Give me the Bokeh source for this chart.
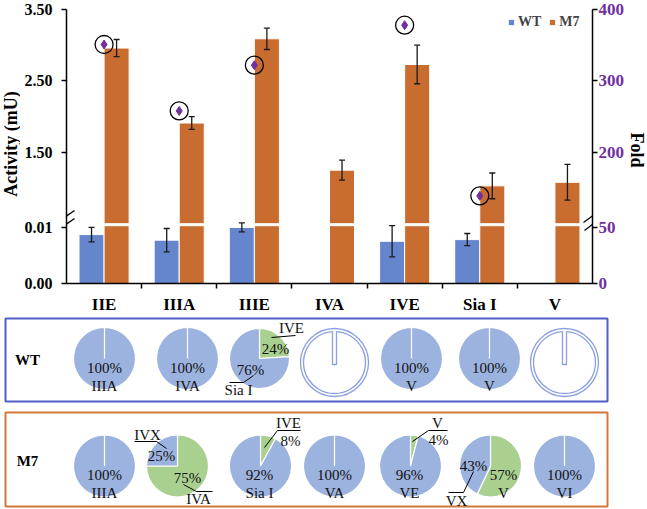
import math
from bokeh.plotting import figure
from bokeh.models import (Range1d, LinearAxis, FixedTicker, Whisker, TeeHead, ColumnDataSource,
                          Legend, LegendItem, Arrow)
from bokeh.layouts import column, row
from bokeh.transform import dodge
from bokeh.core.properties import value
from bokeh.embed import file_html
from bokeh.resources import INLINE

# ---------------- data ----------------
categories = ["IIE", "IIIA", "IIIE", "IVA", "IVE", "Sia I", "V"]
wt_activity = [0.0088, 0.0078, 0.0101, 0.0, 0.0076, 0.0079, 0.0]
wt_error = [0.0013, 0.0021, 0.0008, 0.0, 0.0028, 0.0011, 0.0]
m7_activity = [2.96, 1.91, 3.09, 1.25, 2.73, 1.03, 1.08]
m7_error = [0.12, 0.09, 0.15, 0.14, 0.27, 0.18, 0.25]
fold_change = [351, 258, 322, float("nan"), 378, 139, float("nan")]

activity_ticks_lower = [0.0, 0.01]
activity_ticks_upper = [1.5, 2.5, 3.5]
fold_ticks_lower = [0, 50]
fold_ticks_upper = [200, 300, 400]

wt_products = [["IIIA"], ["IVA"], ["IVE", "Sia I"], [], ["V"], ["V"], []]
wt_shares = [[100], [100], [24, 76], [], [100], [100], []]
m7_products = [["IIIA"], ["IVA", "IVX"], ["IVE", "Sia I"], ["VA"], ["V", "VE"], ["V", "VX"], ["VI"]]
m7_shares = [[100], [75, 25], [8, 92], [100], [4, 96], [57, 43], [100]]

# axis break definition (activity and fold)
ACT_BREAK_LO, ACT_BREAK_HI, ACT_TOP = 0.0104, 0.5, 3.5
FOLD_BREAK_LO, FOLD_BREAK_HI, FOLD_TOP = 52, 100, 400

# ---------------- styles / layout ----------------
SERIF = "Liberation Serif"
WT_COLOR = "#6585CC"
M7_COLOR = "#C96C30"
PIE_BLUE = "#9CB2DF"
PIE_GREEN = "#A9D08E"
RING = "#8C9FE2"
PURPLE = "#7030A0"
WT_BOX = "#4F5FC6"
M7_BOX = "#D2783A"
W = 647
H_TOTAL = 509
SIDE = 20                                  # width of the axis-title strips
FRAME_L, FRAME_R_PAGE = 66, 592
FRAME_T, FRAME_B = 9, 32
H_BAR = 316
H_FRAME = H_BAR - FRAME_T - FRAME_B       # 275
H_LO, GAP = 58, 2
H_HI = H_FRAME - H_LO - GAP
FRAME_BOTTOM_PAGE = H_BAR - FRAME_B       # 284

n = len(categories)
xr = Range1d(0, n)
centers = [i + 0.5 for i in range(n)]

act_hi = Range1d(ACT_BREAK_HI - (H_LO + GAP) * (ACT_TOP - ACT_BREAK_HI) / H_HI, ACT_TOP)
act_lo = Range1d(0, ACT_BREAK_LO * H_FRAME / H_LO)
fold_hi = Range1d(FOLD_BREAK_HI - (H_LO + GAP) * (FOLD_TOP - FOLD_BREAK_HI) / H_HI, FOLD_TOP)
fold_lo = Range1d(0, FOLD_BREAK_LO * H_FRAME / H_LO)


def lo_to_hi(v, lo, hi):
    return hi.start + (v - lo.start) / (lo.end - lo.start) * (hi.end - hi.start)


def lower_part(vals, brk):
    return [min(v, brk) for v in vals]


def upper_part(vals, brk):
    return [v if v > brk else float("nan") for v in vals]


def bare_fig(width, height, xrange, yrange):
    f = figure(width=width, height=height, x_range=xrange, y_range=yrange, output_backend="svg",
               toolbar_location=None, x_axis_location=None, y_axis_location=None,
               min_border=0, min_border_left=0, min_border_right=0,
               min_border_top=0, min_border_bottom=0)
    f.frame_align = False
    f.grid.visible = False
    f.outline_line_color = None
    return f


src = ColumnDataSource(dict(
    x=centers,
    wt_lo=lower_part(wt_activity, ACT_BREAK_LO), wt_hi=upper_part(wt_activity, ACT_BREAK_HI),
    m7_lo=lower_part(m7_activity, ACT_BREAK_LO), m7_hi=upper_part(m7_activity, ACT_BREAK_HI),
    fold=fold_change))

p = figure(width=W - 2 * SIDE, height=H_BAR, x_range=xr, y_range=act_hi, output_backend="svg",
           toolbar_location=None, x_axis_location=None, y_axis_location=None,
           min_border_left=FRAME_L - SIDE, min_border_right=W - SIDE - FRAME_R_PAGE,
           min_border_top=FRAME_T, min_border_bottom=FRAME_B)
p.frame_align = False
p.extra_y_ranges = {"act_lo": act_lo, "fold": fold_hi}
p.grid.visible = False
p.outline_line_color = None


def style_axis(ax, size, color, standoff):
    ax.axis_line_color = "black"
    ax.axis_line_width = 1.5
    ax.major_tick_line_color = "black"
    ax.major_tick_line_width = 1.5
    ax.major_tick_in = 0
    ax.major_tick_out = 5
    ax.minor_tick_line_color = None
    ax.major_label_text_font = SERIF
    ax.major_label_text_font_style = "bold"
    ax.major_label_text_font_size = size
    ax.major_label_text_color = color
    ax.major_label_standoff = standoff


# left axis: activity, with break
l_pos = [lo_to_hi(v, act_lo, act_hi) for v in activity_ticks_lower] + activity_ticks_upper
l_txt = ["%.2f" % v for v in activity_ticks_lower + activity_ticks_upper]
la = LinearAxis(ticker=FixedTicker(ticks=l_pos), major_label_overrides=dict(zip(l_pos, l_txt)))
style_axis(la, "16px", "black", 9)
p.add_layout(la, "left")

# right axis: fold, with break
r_pos = [lo_to_hi(v, fold_lo, fold_hi) for v in fold_ticks_lower] + fold_ticks_upper
r_txt = ["%d" % v for v in fold_ticks_lower + fold_ticks_upper]
ra = LinearAxis(y_range_name="fold", ticker=FixedTicker(ticks=r_pos),
                major_label_overrides=dict(zip(r_pos, r_txt)))
style_axis(ra, "17px", PURPLE, 1)
p.add_layout(ra, "right")

# x axis
xa = LinearAxis(ticker=FixedTicker(ticks=centers, minor_ticks=list(range(1, n))),
                major_label_overrides={c: name for c, name in zip(centers, categories)})
style_axis(xa, "17px", "black", 6)
xa.major_tick_line_color = None
xa.minor_tick_line_color = "black"
xa.minor_tick_line_width = 1.5
xa.minor_tick_in = 0
xa.minor_tick_out = 5
p.add_layout(xa, "below")

# bars (lower and upper pieces)
bar_kw = dict(width=1 / 3, source=src, line_color="white", line_width=1)
wt_lo_r = p.vbar(x=dodge("x", -1 / 6, range=xr), bottom=0, top="wt_lo", y_range_name="act_lo",
                 fill_color=WT_COLOR, **bar_kw)
p.vbar(x=dodge("x", -1 / 6, range=xr), bottom=ACT_BREAK_HI, top="wt_hi", fill_color=WT_COLOR, **bar_kw)
p.vbar(x=dodge("x", 1 / 6, range=xr), bottom=0, top="m7_lo", y_range_name="act_lo",
       fill_color=M7_COLOR, **bar_kw)
m7_hi_r = p.vbar(x=dodge("x", 1 / 6, range=xr), bottom=ACT_BREAK_HI, top="m7_hi",
                 fill_color=M7_COLOR, **bar_kw)


def add_whiskers(offset, vals, errs, range_name):
    xs, lo, hi = [], [], []
    for c, v, e in zip(centers, vals, errs):
        if v > 0:
            xs.append(c + offset)
            lo.append(v - e)
            hi.append(v + e)
    s = ColumnDataSource(dict(x=xs, lo=lo, hi=hi))
    w = Whisker(source=s, base="x", lower="lo", upper="hi", line_color="#1a1a1a", line_width=1.3,
                upper_head=TeeHead(size=6, line_color="#1a1a1a", line_width=1.3),
                lower_head=TeeHead(size=6, line_color="#1a1a1a", line_width=1.3),
                level="annotation")
    if range_name != "default":
        w.y_range_name = range_name
    p.add_layout(w)


add_whiskers(1 / 6, m7_activity, m7_error, "default")
add_whiskers(-1 / 6, wt_activity, wt_error, "act_lo")

# fold markers
p.scatter(x="x", y="fold", y_range_name="fold", source=src, marker="circle", size=18,
          fill_color=None, line_color="black", line_width=1.3)
p.scatter(x="x", y="fold", y_range_name="fold", source=src, marker="diamond", size=9,
          fill_color=PURPLE, line_color=PURPLE)

legend = Legend(items=[LegendItem(label="WT", renderers=[wt_lo_r]),
                       LegendItem(label="M7", renderers=[m7_hi_r])],
                orientation="horizontal", location=(441, 253), border_line_color=None,
                background_fill_alpha=0, label_text_font=SERIF, label_text_font_style="bold",
                label_text_font_size="14px", glyph_width=8, glyph_height=8, label_standoff=3,
                spacing=7, padding=0, margin=0, label_height=14)
p.add_layout(legend)

# axis-break marks
BREAK_MARKS = [((58, 222), (74, 211)), ((58, 230), (74, 219)),
               ((583, 223), (602, 209)), ((584, 231), (601, 218))]
for a, b in BREAK_MARKS:
    p.add_layout(Arrow(end=None, x_start=a[0] - FRAME_L, y_start=FRAME_BOTTOM_PAGE - a[1],
                       x_end=b[0] - FRAME_L, y_end=FRAME_BOTTOM_PAGE - b[1],
                       start_units="screen", end_units="screen",
                       line_color="black", line_width=1.3))

# axis titles in narrow strips at both sides
title_kw = dict(text_align="center", text_baseline="middle", text_font=value(SERIF),
                text_font_style="bold", text_font_size="18px", text_color="black")
tl = bare_fig(SIDE, H_BAR, Range1d(0, SIDE), Range1d(0, H_BAR))
tl.text(x=[10], y=[H_BAR - 143.5], text=["Activity (mU)"], angle=math.pi / 2, **title_kw)
tr = bare_fig(SIDE, H_BAR, Range1d(W - SIDE, W), Range1d(0, H_BAR))
tr.text(x=[636], y=[H_BAR - 149.5], text=["Fold"], angle=-math.pi / 2, **title_kw)

# ---------------- pie panels ----------------
pc = bare_fig(W, H_TOTAL - H_BAR, Range1d(0, W), Range1d(H_TOTAL, H_BAR))

pc.quad(left=[5, 5], right=[607, 607], top=[318, 412], bottom=[401, 506],
        fill_color=None, line_color=[WT_BOX, M7_BOX], line_width=2)
pc.text(x=[27, 27], y=[359, 460], text=["WT", "M7"], text_align="center", text_baseline="middle",
        text_font=value(SERIF), text_font_style="bold", text_font_size="15px")

rows = [
    dict(products=wt_products, shares=wt_shares, cx=[104, 187, 259, 334, 411, 489, 564], cy=358,
         r=[31, 31, 30, 31, 31, 31, 31]),
    dict(products=m7_products, shares=m7_shares, cx=[104, 177, 260, 334, 410, 490, 564], cy=465.5,
         r=[31, 31, 31, 31, 31, 31, 31]),
]
# label placement for split pies: (row, col) -> per slice ((pct dx, dy), (name dx, dy)), leaders
split_layout = {
    (0, 2): ([((16, -10), (32, -31)), ((-9, 11), (-21, 31))],
             [[(12, -21), (36, -23)], [(-30, 24), (-16, 24), (-6, 17)]]),
    (1, 1): ([((10, 11.5), (21, 32.5)), ((-16, -10.5), (-30, -31.5))],
             [[(6, 18.5), (19, 25.5), (35, 25.5)], [(-43, -24.5), (-21, -24.5), (-11, -17.5)]]),
    (1, 2): ([((30, -25.5), (28, -43.5)), ((-1, 8.5), (-1, 26.5))],
             [[(4, -18.5), (17, -35.5), (40, -35.5)]]),
    (1, 4): ([((28, -26.5), (27, -43.5)), ((-1, 8.5), (-1, 26.5))],
             [[(2, -24.5), (18, -35.5), (37, -35.5)]]),
    (1, 5): ([((13, 8.5), (13, 26.5)), ((-17, -0.5), (-34, 34.5))],
             [[(-17, 5.5), (-27, 26.5), (-42, 26.5)]]),
}

wx, wy, wr, ws, we, wc = [], [], [], [], [], []
tx, ty, tt = [], [], []
lxs, lys = [], []
ring_x, ring_y = [], []
for ri, prow in enumerate(rows):
    for ci, (prods, shares) in enumerate(zip(prow["products"], prow["shares"])):
        cx, cy, r = prow["cx"][ci], prow["cy"], prow["r"][ci]
        if not prods:
            ring_x.append(cx)
            ring_y.append(cy + 4)
            continue
        start = math.pi / 2
        for j, (name, pct) in enumerate(zip(prods, shares)):
            sweep = 2 * math.pi * pct / 100.0
            if pct >= 100:
                sweep = 2 * math.pi - 1e-4
            end = start - sweep
            wx.append(cx); wy.append(cy); wr.append(r)
            ws.append(end); we.append(start)
            wc.append(PIE_GREEN if (len(prods) > 1 and j == 0) else PIE_BLUE)
            start = end
            if (ri, ci) in split_layout:
                (pdx, pdy), (ndx, ndy) = split_layout[(ri, ci)][0][j]
            else:
                (pdx, pdy), (ndx, ndy) = (0, 9), (0, 27)
            tx += [cx + pdx, cx + ndx]
            ty += [cy + pdy, cy + ndy]
            tt += [f"{pct}%", name]
        if (ri, ci) in split_layout:
            for line in split_layout[(ri, ci)][1]:
                lxs.append([cx + d[0] for d in line])
                lys.append([cy + d[1] for d in line])

pc.wedge(x=wx, y=wy, radius=wr, start_angle=ws, end_angle=we, direction="anticlock",
         fill_color=wc, line_color="white", line_width=1.2)
pc.multi_line(xs=lxs, ys=lys, line_color="black", line_width=1)
pc.text(x=tx, y=ty, text=tt, text_align="center", text_baseline="middle",
        text_font=value(SERIF), text_font_size="15px", text_color="#111111")

# empty pies (no product): double ring with slit
gap = math.asin(2.0 / 31)
pc.circle(x=ring_x, y=ring_y, radius=34, fill_color=None, line_color=RING, line_width=1.3)
pc.arc(x=ring_x, y=ring_y, radius=31, start_angle=math.pi / 2 + gap, end_angle=math.pi / 2 - gap,
       direction="anticlock", line_color=RING, line_width=1.3)
pc.multi_line(xs=[[x - 2, x - 2, x + 2, x + 2] for x in ring_x],
              ys=[[y - 30.9, y + 2, y + 2, y - 30.9] for y in ring_y],
              line_color=RING, line_width=1.3)

layout = column(row(tl, p, tr, spacing=0), pc, spacing=0)
open("out.html", "w").write(file_html(layout, INLINE))
